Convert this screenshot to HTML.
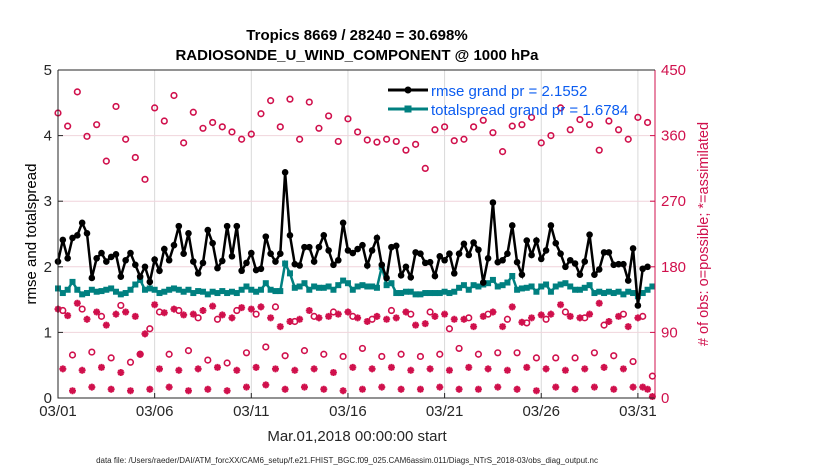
<!DOCTYPE html>
<html><head><meta charset="utf-8"><style>
body{margin:0;background:#fff;font-family:"Liberation Sans",sans-serif;}
svg text{font-family:"Liberation Sans",sans-serif;}
</style></head><body>
<svg id="chart" width="830" height="470" viewBox="0 0 830 470" xmlns="http://www.w3.org/2000/svg">
<text x="357" y="40" text-anchor="middle" font-size="15" font-weight="bold">Tropics 8669 / 28240 = 30.698%</text>
<text x="357" y="60" text-anchor="middle" font-size="15" font-weight="bold">RADIOSONDE_U_WIND_COMPONENT @ 1000 hPa</text>
<g id="grid"></g>
<g id="marks"></g>
<g id="axes"></g>
<text transform="translate(36,234) rotate(-90)" text-anchor="middle" font-size="15">rmse and totalspread</text>
<text transform="translate(708,234) rotate(-90)" text-anchor="middle" font-size="14.5" fill="#d0104c"># of obs: o=possible; *=assimilated</text>
<text x="357" y="441" text-anchor="middle" font-size="15" fill="#262626">Mar.01,2018 00:00:00 start</text>
<text x="347" y="463" text-anchor="middle" font-size="8" fill="#262626">data file: /Users/raeder/DAI/ATM_forcXX/CAM6_setup/f.e21.FHIST_BGC.f09_025.CAM6assim.011/Diags_NTrS_2018-03/obs_diag_output.nc</text>
<g>
<line x1="388" y1="90" x2="428" y2="90" stroke="#000" stroke-width="3"/>
<circle cx="408" cy="90" r="3.5" fill="#000"/>
<text x="431" y="96" font-size="15" fill="#0b5cf0">rmse grand pr = 2.1552</text>
<line x1="388" y1="109" x2="428" y2="109" stroke="#008080" stroke-width="3"/>
<rect x="404.5" y="105.5" width="7" height="7" fill="#008080"/>
<text x="431" y="115" font-size="15" fill="#0b5cf0">totalspread grand pr = 1.6784</text>
</g>
</svg>
<script>
const xTickLabels=["03/01","03/06","03/11","03/16","03/21","03/26","03/31"];
const xTickDays=[0,5,10,15,20,25,30];
const leftTicks=[0,1,2,3,4,5];
const rightTicks=[0,90,180,270,360,450];
const rmse=[2.08,2.41,2.13,2.44,2.48,2.67,2.51,1.83,2.13,2.21,2.08,2.15,2.19,1.85,2.1,2.21,2.03,1.85,2.0,1.77,2.11,1.94,2.27,2.1,2.33,2.62,2.2,2.51,2.08,1.9,2.06,2.56,2.36,1.98,2.09,2.62,2.16,2.62,1.94,2.06,2.21,
1.95,1.97,2.46,2.2,2.08,2.2,3.44,2.48,2.04,2.02,2.3,2.3,2.08,2.3,2.48,2.25,2.03,2.1,2.67,2.25,2.21,2.27,2.33,2.02,2.25,2.44,2.03,1.83,2.3,2.32,1.87,2.0,1.84,2.22,2.2,2.06,2.07,1.86,2.16,2.1,
2.2,1.9,2.2,2.35,2.18,2.37,2.26,1.76,2.13,2.98,2.07,2.1,2.2,2.63,2.07,1.88,2.4,2.18,2.4,2.12,2.25,2.63,2.36,2.2,2.0,2.1,2.05,1.88,2.08,2.49,1.88,1.96,2.22,2.22,2.03,2.04,2.04,1.79,2.28,1.41,1.97,2.0];
const spread=[1.67,1.6,1.65,1.77,1.65,1.58,1.6,1.65,1.62,1.63,1.65,1.67,1.62,1.58,1.6,1.65,1.73,1.8,1.65,1.67,1.65,1.6,1.62,1.65,1.67,1.65,1.62,1.65,1.6,1.63,1.62,1.58,1.62,1.6,1.63,1.6,1.62,1.6,1.65,1.7,1.65,
1.62,1.65,1.75,1.65,1.63,1.63,2.05,1.9,1.68,1.7,1.75,1.65,1.7,1.68,1.68,1.7,1.65,1.72,1.79,1.75,1.65,1.7,1.72,1.7,1.7,1.68,2.0,1.72,1.75,1.6,1.6,1.62,1.62,1.58,1.58,1.6,1.6,1.6,1.6,1.62,1.6,
1.62,1.68,1.72,1.65,1.72,1.7,1.73,1.75,1.8,1.7,1.72,1.76,1.86,1.65,1.67,1.68,1.7,1.62,1.7,1.73,1.62,1.7,1.73,1.75,1.7,1.65,1.65,1.68,1.72,1.6,1.62,1.6,1.62,1.6,1.62,1.58,1.62,1.6,1.55,1.6,1.65,1.7];
const possible=[
391,120,373,59, 420,122,359,63, 375,112,325,55, 400,127,355,49, 330,60,300,95,
398,118,380,60, 415,120,350,65, 392,110,370,52, 378,108,372,48, 365,120,355,62,
362,115,390,70, 408,125,372,58, 410,105,355,65, 406,112,370,60, 387,118,352,57,
383,112,365,68, 354,108,351,57, 355,120,352,60, 340,115,348,57, 315,118,368,60,
372,95,353,68, 355,110,372,60, 381,115,364,62, 338,108,373,62, 375,103,385,55,
350,108,360,55, 398,118,368,55, 382,110,375,62, 340,100,380,58, 368,115,355,50,
385,112,378,30];
const assim=[
122,40,113,10, 130,38,108,15, 118,42,100,12, 115,35,118,10, 112,60,88,12,
128,40,117,15, 122,38,114,10, 115,40,120,12, 126,42,114,10, 110,38,124,15,
122,42,125,18, 110,40,98,12, 105,38,108,15, 120,40,110,12, 112,35,115,10,
118,42,110,12, 105,40,112,15, 108,42,110,12, 118,38,100,12, 102,40,112,15,
115,38,108,12, 108,42,98,12, 112,40,118,15, 98,38,125,12, 104,42,110,10,
114,40,115,15, 128,38,112,12, 110,40,115,15, 130,42,105,12, 112,40,98,15,
110,15,12,2];
const NS="http://www.w3.org/2000/svg";
const X0=58,X1=655,Y0=398,Y1=70,PXDAY=19.33;
function xs(i){return X0+i*0.25*PXDAY;}
function xd(d){return X0+d*PXDAY;}
function yl(v){return Y0-(v/5)*(Y0-Y1);}
function yr(v){return Y0-(v/450)*(Y0-Y1);}
function mk(tag,attrs,parent){const e=document.createElementNS(NS,tag);for(const k in attrs)e.setAttribute(k,attrs[k]);parent.appendChild(e);return e;}
const grid=document.getElementById('grid'),marks=document.getElementById('marks'),axes=document.getElementById('axes');
xTickDays.forEach((d,i)=>{
 const l=mk('line',{x1:xd(d),x2:xd(d),y1:Y1,y2:Y0,stroke:'#d9d9d9','stroke-width':1},grid);
 
 
 const t=mk('text',{x:xd(d),y:Y0+18,'text-anchor':'middle','font-size':15,fill:'#262626'},axes);
 t.textContent=xTickLabels[i];
 
 
 const tk=mk('line',{x1:xd(d),x2:xd(d),y1:Y0,y2:Y0-5,stroke:'#262626'},axes);
 
 
});
leftTicks.forEach(v=>{
 if(v>0&&v<5){const g=mk('line',{x1:X0,x2:X1,y1:yl(v),y2:yl(v),stroke:'#f0d4dc','stroke-width':1},grid);
 
 }
 const t=mk('text',{x:X0-6,y:yl(v)+5,'text-anchor':'end','font-size':15,fill:'#262626'},axes);
 t.textContent=v;
 
 
 const tk=mk('line',{x1:X0,x2:X0+5,y1:yl(v),y2:yl(v),stroke:'#262626'},axes);
 
 
});
rightTicks.forEach(v=>{
 const t=mk('text',{x:X1+6,y:yr(v)+5,'font-size':15,fill:'#d0104c'},axes);
 t.textContent=v;
 
 
 const tk=mk('line',{x1:X1,x2:X1-5,y1:yr(v),y2:yr(v),stroke:'#d0104c'},axes);
 
 
});
const fr=mk('path',{d:`M${X0},${Y1}V${Y0}H${X1}`,fill:'none',stroke:'#262626','stroke-width':1},axes);


const rr=mk('line',{x1:X1,x2:X1,y1:Y1,y2:Y0,stroke:'#d0104c'},axes);


const tp=mk('line',{x1:X0,x2:X1,y1:Y1,y2:Y1,stroke:'#262626'},axes);


possible.forEach((v,i)=>{
 const c=mk('circle',{cx:xs(i),cy:yr(v),r:2.8,fill:'none',stroke:'#d0104c','stroke-width':1.6},marks);
 
 
});
assim.forEach((v,i)=>{
 const x=xs(i),y=yr(v),s=3.5,d=2.5;
 const p=mk('path',{d:`M${x-s},${y}H${x+s}M${x},${y-s}V${y+s}M${x-d},${y-d}L${x+d},${y+d}M${x-d},${y+d}L${x+d},${y-d}`,stroke:'#d0104c','stroke-width':2,fill:'none'},marks);
 
 
});
const sp=mk('polyline',{points:spread.map((v,i)=>xs(i)+','+yl(v)).join(' '),fill:'none',stroke:'#008080','stroke-width':2.5},marks);


spread.forEach((v,i)=>{
 const r=mk('rect',{x:xs(i)-3,y:yl(v)-3,width:6,height:6,fill:'#008080'},marks);
 
 
});
const rl=mk('polyline',{points:rmse.map((v,i)=>xs(i)+','+yl(v)).join(' '),fill:'none',stroke:'#000','stroke-width':2.5},marks);


rmse.forEach((v,i)=>{
 const c=mk('circle',{cx:xs(i),cy:yl(v),r:3.3,fill:'#000'},marks);
 
 
});
</script>
</body></html>
